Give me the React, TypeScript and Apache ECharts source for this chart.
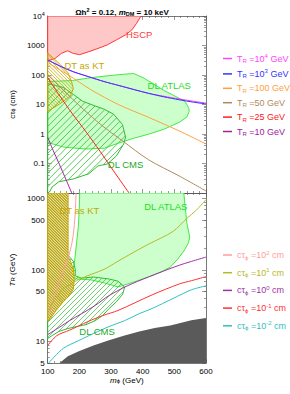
import React, { useEffect, useRef } from "react";
import * as echarts from "echarts";

const FONT = "'Liberation Sans', Arial, Helvetica, sans-serif";
const AX = "#555";

const X_MIN = 100;
const X_MAX = 600;
const X_STEP = 100;
const CT_MIN = 0.01;
const CT_MAX = 10000;
const TR_MIN = 5;
const TR_MAX = 1200;

const ctMajorTicks = [0.01, 0.1, 1, 10, 100, 1000, 10000];
const ctLabelValues = [0.1, 1, 10, 100, 1000, 10000];
const ctLabelTexts = ["0.1", "1", "10", "100", "1000", "{b|10}{s|4}"];
const trMajorTicks = [5, 10, 50, 100, 500, 1000];
const trLabelValues = [5, 10, 50, 100, 500, 1000];
const trLabelTexts = ["5", "10", "50", "100", "500", "1000"];

type P = [number, number];

// ---------- top panel: (m_phi [GeV], c tau [cm]) ----------
const hscpBoundary: P[] = [[100, 302], [123, 363], [143, 537], [163, 661], [181, 537], [201, 490], [230, 617], [259, 794], [288, 1047], [317, 1549], [346, 2291], [366, 3388], [380, 5495], [395, 10000], [100, 10000]];
const atlasTop: P[] = [[100, 60], [178, 65], [236, 81], [294, 95], [343, 107], [372, 112], [401, 81], [429, 54], [467, 30], [505, 18.6], [534, 12.6], [545, 7.9], [547, 5.9], [539, 3.7], [516, 2.5], [467, 1.45], [418, 0.98], [372, 0.72], [323, 0.49], [279, 0.33], [221, 0.31], [149, 0.36], [100, 0.52]];
const cmsTop: P[] = [[100, 51], [149, 38], [181, 22], [210, 12.9], [250, 8.9], [279, 6.9], [308, 4.7], [336, 2.1], [346, 0.78], [340, 0.46], [317, 0.18], [288, 0.096], [259, 0.083], [230, 0.045], [181, 0.03], [135, 0.024], [114, 0.016], [106, 0.011], [100, 0.01]];
const dtTop: P[] = [[100, 562], [120, 355], [140, 224], [164, 120], [175, 60], [181, 35], [172, 20], [149, 12.6], [120, 7.9], [100, 5.9]];

const trR1e4: P[] = [[100, 324], [143, 191], [181, 129], [230, 87], [278, 60], [325, 44], [375, 31.6], [418, 24], [467, 19], [515, 15.5], [560, 12.9], [600, 11.2]];
const trR1e3: P[] = [[100, 324], [143, 191], [181, 129], [230, 87], [278, 60], [325, 44], [375, 31.6], [418, 24], [467, 18.2], [515, 14.5], [560, 12], [600, 10.5]];
const trR100: P[] = [[100, 263], [164, 102], [236, 32], [323, 10], [418, 3.7], [516, 1.26], [600, 0.46]];
const trR50: P[] = [[100, 102], [163, 21.9], [230, 4.68], [278, 1.7], [336, 0.59], [418, 0.135], [515, 0.038], [600, 0.0117]];
const trR25: P[] = [[100, 81], [135, 21.9], [179, 4.68], [222, 1.15], [265, 0.263], [308, 0.056], [357, 0.01]];
const trR10: P[] = [[100, 0.78], [117, 0.28], [135, 0.105], [176, 0.01]];

// ---------- bottom panel: (m_phi [GeV], T_R [GeV]) ----------
const dtBottom: P[] = [[100, 1200], [164.4, 1200], [164.4, 152], [172, 133], [181, 103], [184, 75], [181, 54], [169, 44], [149, 36], [126, 27], [109, 21], [100, 19.5]];
const atlasBottom: P[] = [[201.2, 1200], [529.8, 1200], [534.2, 774], [539.3, 464], [548.8, 287], [544.2, 237], [529.8, 184], [510.4, 142], [487.3, 110], [458.4, 94], [417.9, 80], [371.7, 68], [322.5, 58], [279.2, 66], [235.8, 73], [192.5, 75], [172.3, 83], [182.4, 110], [186.7, 156], [192.5, 270], [196.8, 408], [199.7, 703]];
const cmsBottom: P[] = [[100, 133], [149, 162], [164, 162], [181, 133], [187, 103], [187, 83], [207, 77], [244, 80], [294, 75], [322, 70], [343, 58], [337, 46], [317, 36], [294, 29], [273, 23], [250, 19.6], [221, 17.2], [192, 16.2], [164, 15.2], [135, 13.8], [114, 12.1], [100, 11]];
const grayBottom: P[] = [[137.6, 5], [163.6, 6.2], [198.3, 7.3], [244.5, 8.8], [293.6, 10.4], [342.8, 12.1], [389, 13.8], [438.1, 15.4], [487.3, 16.8], [553.7, 19.8], [600, 21.3], [600, 5]];

const ct1e2: P[] = [[189.6, 1200], [186.7, 600], [180.9, 316], [172.3, 196], [160.7, 133], [143.4, 83], [123.1, 46], [105.8, 24.5]];
const ct1e1: P[] = [[100, 27], [120, 37], [143, 51], [164, 60], [201, 75], [279, 103], [322, 133], [372, 178], [418, 230], [496, 348], [539, 527], [568, 681], [600, 969]];
const ct1e0: P[] = [[100, 12.5], [135, 15.6], [169, 19.6], [207, 24.5], [250, 32], [294, 44], [351, 60], [418, 80], [516, 117], [600, 152]];
const ct1em1: P[] = [[100, 8.8], [129, 12.1], [169, 14.4], [227, 19], [273, 23], [322, 27.2], [430, 45], [516, 64], [554, 71], [600, 81]];
const ct1em2: P[] = [[103, 5], [149, 8], [198, 10.3], [244, 12.9], [294, 16.2], [343, 19.6], [389, 24.5], [430, 29], [496, 40], [554, 53], [600, 60]];

const topLabels = [
  { text: "HSCP", m: 389, v: 2290 },
  { text: "DT as KT", m: 216, v: 208 },
  { text: "DL ATLAS", m: 484, v: 44 },
  { text: "DL CMS", m: 346, v: 0.096 },
];
const bottomLabels = [
  { text: "DT as KT", m: 200, v: 681 },
  { text: "DL ATLAS", m: 473, v: 774 },
  { text: "DL CMS", m: 256, v: 13.8 },
];

const topLegendNames = ["TR1e4", "TR1e3", "TR100", "TR50", "TR25", "TR10"];
const topLegendTexts = [
  "{n|T}{sub|R}{n| =10}{sup|4}{n| GeV}",
  "{n|T}{sub|R}{n| =10}{sup|3}{n| GeV}",
  "{n|T}{sub|R}{n| =100 GeV}",
  "{n|T}{sub|R}{n| =50 GeV}",
  "{n|T}{sub|R}{n| =25 GeV}",
  "{n|T}{sub|R}{n| =10 GeV}",
];
const bottomLegendNames = ["CT2", "CT1", "CT0", "CTm1", "CTm2"];
const bottomLegendTexts = [
  "{n|cτ}{sub|ϕ}{n| =10}{sup|2}{n| cm}",
  "{n|cτ}{sub|ϕ}{n| =10}{sup|1}{n| cm}",
  "{n|cτ}{sub|ϕ}{n| =10}{sup|0}{n| cm}",
  "{n|cτ}{sub|ϕ}{n| =10}{sup|-1}{n| cm}",
  "{n|cτ}{sub|ϕ}{n| =10}{sup|-2}{n| cm}",
];

const COL = {
  tr1e4: "#ff44ff",
  tr1e3: "#3333ff",
  tr100: "#ffa040",
  tr50: "#b08a5c",
  tr25: "#ff2020",
  tr10: "#a020a0",
  ct2: "#ff9c9c",
  ct1: "#b8b828",
  ct0: "#a030a8",
  ctm1: "#ff3030",
  ctm2: "#30c0c0",
  hscpFill: "#ffc8c8",
  hscpLine: "#ff3838",
  atlasFill: "#ccffcc",
  atlasLine: "#44e844",
  cms: "#33bb33",
  dt: "#c4a800",
  dtDense: "#b09c00",
  gray: "#5a5a5a",
};

const lg = Math.log10;

function hatch(pts: number[][], spacing: number, slash: boolean) {
  const f = (p: number[]) => (slash ? p[0] + p[1] : p[0] - p[1]);
  const vals = pts.map(f);
  const lo = Math.min(...vals);
  const hi = Math.max(...vals);
  const segs: number[][][] = [];
  for (let c = Math.ceil(lo / spacing) * spacing; c <= hi; c += spacing) {
    const xs: number[][] = [];
    for (let i = 0; i < pts.length; i++) {
      const a = pts[i];
      const b = pts[(i + 1) % pts.length];
      const fa = f(a) - c;
      const fb = f(b) - c;
      if (fa < 0 !== fb < 0) {
        const t = fa / (fa - fb);
        xs.push([a[0] + t * (b[0] - a[0]), a[1] + t * (b[1] - a[1])]);
      }
    }
    xs.sort((p, q) => p[0] - q[0]);
    for (let k = 0; k + 1 < xs.length; k += 2) segs.push([xs[k], xs[k + 1]]);
  }
  return segs;
}

function region(pts: P[], panel: number, opts: any) {
  return {
    type: "custom",
    xAxisIndex: panel === 0 ? 0 : 2,
    yAxisIndex: panel === 0 ? 0 : 4,
    clip: true,
    silent: true,
    z: opts.z || 1,
    data: [[pts[0][0], lg(pts[0][1])]],
    encode: { x: 0, y: 1 },
    renderItem: (_params: any, api: any) => {
      const Pp = pts.map(([m, v]) => api.coord([m, lg(v)]));
      const children: any[] = [];
      if (opts.fill) children.push({ type: "polygon", shape: { points: Pp }, style: { fill: opts.fill, stroke: "none" } });
      if (opts.hatch) {
        for (const [a, b] of hatch(Pp, opts.hatch.spacing, opts.hatch.slash)) {
          children.push({ type: "line", shape: { x1: a[0], y1: a[1], x2: b[0], y2: b[1] }, style: { stroke: opts.hatch.color, lineWidth: opts.hatch.width } });
        }
      }
      if (opts.stroke) children.push({ type: "polygon", shape: { points: Pp }, style: { fill: "none", stroke: opts.stroke, lineWidth: opts.lineWidth || 1 } });
      return { type: "group", children };
    },
  };
}

function line(name: string, pts: P[], color: string, panel: number) {
  return {
    type: "line",
    name,
    xAxisIndex: panel === 0 ? 0 : 2,
    yAxisIndex: panel === 0 ? 0 : 4,
    data: pts.map(([m, v]) => [m, lg(v)]),
    showSymbol: false,
    symbol: "none",
    smooth: 0.3,
    silent: true,
    clip: true,
    z: 5,
    lineStyle: { color, width: 1 },
    itemStyle: { color },
  };
}

function labels(items: any[], colors: string[], panel: number) {
  return {
    type: "custom",
    xAxisIndex: panel === 0 ? 0 : 2,
    yAxisIndex: panel === 0 ? 0 : 4,
    silent: true,
    z: 8,
    data: items.map((it) => [it.m, lg(it.v)]),
    encode: { x: 0, y: 1 },
    renderItem: (params: any, api: any) => {
      const it = items[params.dataIndex];
      const p = api.coord([api.value(0), api.value(1)]);
      return {
        type: "text",
        x: p[0],
        y: p[1],
        style: { text: it.text, fill: colors[params.dataIndex], fontSize: 9.5, fontFamily: FONT, textAlign: "center", textVerticalAlign: "middle" },
      };
    },
  };
}

function minorList(min: number, max: number) {
  const out: number[] = [];
  for (let d = -3; d <= 4; d++) {
    for (let k = 2; k <= 9; k++) {
      const v = k * Math.pow(10, d);
      if (v > min && v < max) out.push(v);
    }
  }
  return out;
}

const richTick = {
  b: { fontSize: 8, fontFamily: FONT, color: "#000", lineHeight: 10 },
  s: { fontSize: 5.5, fontFamily: FONT, color: "#000", lineHeight: 6, verticalAlign: "top" },
};

function yAxes(gridIndex: number, min: number, max: number, majors: number[], labVals: number[], labTexts: string[], name: string, nameGap: number, namePad: number[]) {
  const minors = minorList(min, max);
  const tickStyle = { color: AX, width: 0.6 };
  const base: any = {
    type: "value",
    gridIndex,
    min: lg(min),
    max: lg(max),
    splitLine: { show: false },
    axisLine: { show: true, lineStyle: { color: AX, width: 0.8 } },
    axisLabel: { show: false },
    axisTick: { show: true, inside: true, length: 4, customValues: majors.map(lg), lineStyle: tickStyle },
  };
  const minorAx = { ...base, axisLine: { show: false }, axisTick: { show: true, inside: true, length: 2, customValues: minors.map(lg), lineStyle: tickStyle } };
  return [
    {
      ...base,
      position: "left",
      name,
      nameLocation: "middle",
      nameGap,
      nameTextStyle: {
        padding: namePad,
        rich: {
          n: { fontSize: 8, fontFamily: FONT, color: "#000" },
          i: { fontSize: 8, fontFamily: FONT, color: "#000", fontStyle: "italic" },
          sub: { fontSize: 6, fontFamily: FONT, color: "#000", verticalAlign: "bottom", lineHeight: 6 },
        },
      },
      axisLabel: {
        show: true,
        customValues: labVals.map(lg),
        formatter: (v: number) => {
          const i = labVals.findIndex((x) => Math.abs(lg(x) - v) < 1e-6);
          return i >= 0 ? labTexts[i] : "";
        },
        fontSize: 8,
        fontFamily: FONT,
        color: "#000",
        margin: 3,
        rich: richTick,
      },
    },
    { ...minorAx, position: "left" },
    { ...base, position: "right" },
    { ...minorAx, position: "right" },
  ];
}

function xAx(gridIndex: number, position: string, showLabel: boolean, name?: string) {
  return {
    type: "value",
    gridIndex,
    position,
    min: X_MIN,
    max: X_MAX,
    interval: X_STEP,
    splitLine: { show: false },
    axisLine: { show: true, onZero: false, lineStyle: { color: AX, width: 0.8 } },
    axisTick: { show: true, inside: true, length: 4, lineStyle: { color: AX, width: 0.6 } },
    minorTick: { show: true, splitNumber: 5, length: 2, lineStyle: { color: AX, width: 0.6 } },
    axisLabel: { show: showLabel, fontSize: 8, fontFamily: FONT, color: "#000", margin: 4 },
    name: name || "",
    nameLocation: "middle",
    nameGap: 13,
    nameTextStyle: {
      rich: {
        n: { fontSize: 8, fontFamily: FONT, color: "#000" },
        i: { fontSize: 8, fontFamily: FONT, color: "#000", fontStyle: "italic" },
        sub: { fontSize: 6, fontFamily: FONT, color: "#000", verticalAlign: "bottom", lineHeight: 6 },
      },
    },
  };
}

const legendRich = {
  n: { fontSize: 9, fontFamily: FONT, lineHeight: 11 },
  sub: { fontSize: 6, fontFamily: FONT, lineHeight: 6, verticalAlign: "bottom" },
  sup: { fontSize: 6, fontFamily: FONT, lineHeight: 6, verticalAlign: "top" },
};

export default function App() {
  const ref = useRef<HTMLDivElement>(null);
  useEffect(() => {
    if (!ref.current) return;
    const chart = echarts.init(ref.current, undefined, { renderer: "svg" });
    const topColors = [COL.tr1e4, COL.tr1e3, COL.tr100, COL.tr50, COL.tr25, COL.tr10];
    const botColors = [COL.ct2, COL.ct1, COL.ct0, COL.ctm1, COL.ctm2];
    const legendMap: Record<string, string> = {};
    topLegendNames.forEach((n, i) => (legendMap[n] = topLegendTexts[i]));
    bottomLegendNames.forEach((n, i) => (legendMap[n] = bottomLegendTexts[i]));

    const option: any = {
      animation: false,
      backgroundColor: "#fff",
      title: {
        text: "{n|Ωh}{sup|2}{n| = 0.12, }{i|m}{sub|DM}{n| = 10 keV}",
        left: 117,
        top: 2,
        textAlign: "center",
        textStyle: {
          rich: {
            n: { fontSize: 8, fontFamily: FONT, color: "#000", lineHeight: 10 },
            i: { fontSize: 8, fontFamily: FONT, color: "#000", fontStyle: "italic", lineHeight: 10 },
            sup: { fontSize: 5.5, fontFamily: FONT, color: "#000", verticalAlign: "top", lineHeight: 6 },
            sub: { fontSize: 5.5, fontFamily: FONT, color: "#000", verticalAlign: "bottom", lineHeight: 6 },
          },
        },
      },
      grid: [
        { left: 33, top: 16, width: 173, height: 177, containLabel: false },
        { left: 33, top: 193, width: 173, height: 170, containLabel: false },
      ],
      legend: [
        {
          orient: "vertical",
          left: 223,
          top: 53,
          padding: 0,
          itemWidth: 9,
          itemHeight: 1.5,
          itemGap: 4.4,
          icon: "rect",
          selectedMode: false,
          data: topLegendNames.map((n, i) => ({ name: n, textStyle: { color: topColors[i] } })),
          formatter: (name: string) => legendMap[name],
          textStyle: { fontSize: 9, fontFamily: FONT, rich: legendRich },
        },
        {
          orient: "vertical",
          left: 223,
          top: 249.5,
          padding: 0,
          itemWidth: 9,
          itemHeight: 1.5,
          itemGap: 6.7,
          icon: "rect",
          selectedMode: false,
          data: bottomLegendNames.map((n, i) => ({ name: n, textStyle: { color: botColors[i] } })),
          formatter: (name: string) => legendMap[name],
          textStyle: { fontSize: 9, fontFamily: FONT, rich: legendRich },
        },
      ],
      xAxis: [
        xAx(0, "bottom", false),
        xAx(0, "top", false),
        xAx(1, "bottom", true, "{i|m}{sub|ϕ}{n| (GeV)}"),
        xAx(1, "top", false),
      ],
      yAxis: [
        ...yAxes(0, CT_MIN, CT_MAX, ctMajorTicks, ctLabelValues, ctLabelTexts, "{n|cτ}{sub|ϕ}{n| (cm)}", 17, [0, 0, 0, 0]),
        ...yAxes(1, TR_MIN, TR_MAX, trMajorTicks, trLabelValues, trLabelTexts, "{i|T}{sub|R}{n| (GeV)}", 17, [0, 0, 0, 16]),
      ],
      series: [
        region(atlasTop, 0, { fill: COL.atlasFill, stroke: COL.atlasLine, z: 1 }),
        region(hscpBoundary, 0, { fill: COL.hscpFill, stroke: COL.hscpLine, z: 1 }),
        region(cmsTop, 0, { hatch: { spacing: 6.7, slash: true, color: COL.cms, width: 0.8 }, stroke: COL.cms, z: 2 }),
        region(dtTop, 0, { hatch: { spacing: 3.3, slash: false, color: COL.dt, width: 0.8 }, stroke: COL.dt, z: 2 }),
        region(atlasBottom, 1, { fill: COL.atlasFill, stroke: COL.atlasLine, z: 1 }),
        region(grayBottom, 1, { fill: COL.gray, z: 1 }),
        region(cmsBottom, 1, { hatch: { spacing: 5, slash: true, color: COL.cms, width: 0.7 }, stroke: COL.cms, z: 2 }),
        region(dtBottom, 1, { fill: "#f4eec0", hatch: { spacing: 2.8, slash: false, color: COL.dtDense, width: 1.1 }, stroke: COL.dt, z: 2 }),
        line("TR1e4", trR1e4, COL.tr1e4, 0),
        line("TR1e3", trR1e3, COL.tr1e3, 0),
        line("TR100", trR100, COL.tr100, 0),
        line("TR50", trR50, COL.tr50, 0),
        line("TR25", trR25, COL.tr25, 0),
        line("TR10", trR10, COL.tr10, 0),
        line("CT2", ct1e2, COL.ct2, 1),
        line("CT1", ct1e1, COL.ct1, 1),
        line("CT0", ct1e0, COL.ct0, 1),
        line("CTm1", ct1em1, COL.ctm1, 1),
        line("CTm2", ct1em2, COL.ctm2, 1),
        labels(topLabels, [COL.hscpLine, COL.dt, "#22dd22", "#22aa22"], 0),
        labels(bottomLabels, [COL.dt, "#22dd22", "#22aa22"], 1),
      ],
    };
    chart.setOption(option);
    return () => chart.dispose();
  }, []);
  return <div ref={ref} style={{ position: "fixed", left: 0, top: 0, width: 290, height: 394 }} />;
}
